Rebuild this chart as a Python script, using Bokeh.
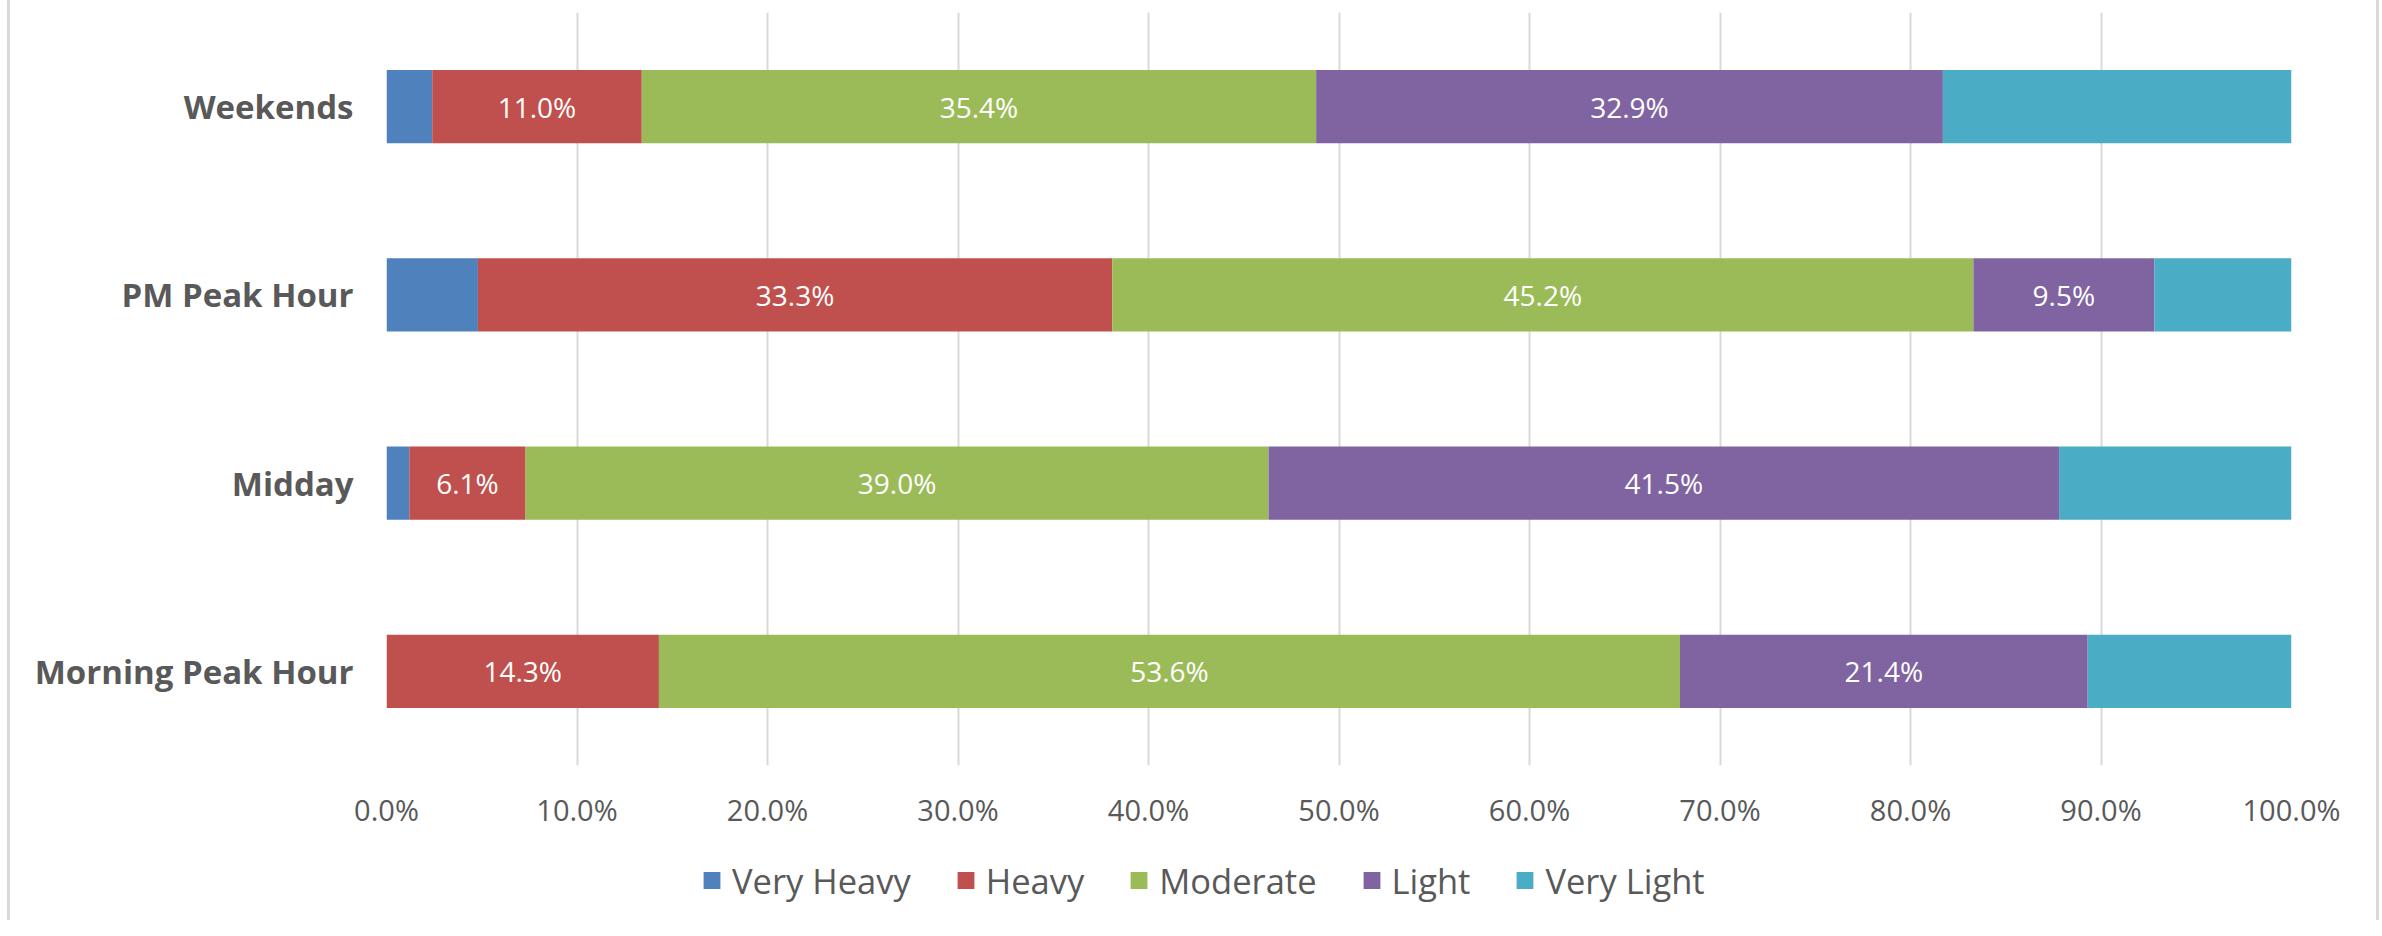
from bokeh.plotting import figure
from bokeh.layouts import column
from bokeh.models import (ColumnDataSource, Legend, LegendItem, NumeralTickFormatter,
                          LabelSet, FactorRange, Range1d, FixedTicker)
from bokeh.core.properties import value
from bokeh.embed import file_html
from bokeh.resources import INLINE

# ---- data (percent of observations) ----
periods = ["Morning Peak Hour", "Midday", "PM Peak Hour", "Weekends"]
levels = ["Very Heavy", "Heavy", "Moderate", "Light", "Very Light"]
very_heavy = [0.0, 1.2, 4.8, 2.4]
heavy = [14.3, 6.1, 33.3, 11.0]
moderate = [53.6, 39.0, 45.2, 35.4]
light = [21.4, 41.5, 9.5, 32.9]
very_light = [10.7, 12.2, 7.2, 18.3]
labelled_levels = ["Heavy", "Moderate", "Light"]
x_ticks = [0.0, 0.1, 0.2, 0.3, 0.4, 0.5, 0.6, 0.7, 0.8, 0.9, 1.0]

colors = ["#4F81BD", "#C0504D", "#9BBB59", "#8064A2", "#4BACC6"]
FONT = "Open Sans"
TEXT = "#595959"
W = 2380

series = [very_heavy, heavy, moderate, light, very_light]
data = {"period": periods}
for name, vals in zip(levels, series):
    data[name] = [v / 100.0 for v in vals]
source = ColumnDataSource(data)

BORDER_STYLE = {
    "background-color": "white",
    "background-image": "linear-gradient(#D9D9D9, #D9D9D9), linear-gradient(#D9D9D9, #D9D9D9)",
    "background-size": "3px 100%, 3px 100%",
    "background-position": "7px 0px, 2376px 0px",
    "background-repeat": "no-repeat",
}

p = figure(y_range=FactorRange(*periods), x_range=Range1d(0, 1),
           width=W, height=840, output_backend="svg", toolbar_location=None,
           min_border_left=386, min_border_right=89, min_border_top=12,
           min_border_bottom=75)

renderers = p.hbar_stack(levels, y="period", height=0.39, color=colors,
                         source=source, line_color=None)

# data labels
lx, ly, lt = [], [], []
for i, per in enumerate(periods):
    cum = 0.0
    for name, vals in zip(levels, series):
        v = vals[i] / 100.0
        if name in labelled_levels:
            lx.append(cum + v / 2)
            ly.append(per)
            lt.append(f"{vals[i]:.1f}%")
        cum += v
lsrc = ColumnDataSource(dict(x=lx, y=ly, t=lt))
labels = LabelSet(x="x", y="y", text="t", source=lsrc, text_align="center",
                  text_baseline="middle", text_color="white",
                  text_font=value(FONT), text_font_size="28px")
p.add_layout(labels)

# axes
p.xaxis.ticker = FixedTicker(ticks=x_ticks)
p.xaxis.formatter = NumeralTickFormatter(format="0.0%")
p.xaxis.major_label_text_font = FONT
p.xaxis.major_label_text_font_size = "29px"
p.xaxis.major_label_text_color = TEXT
p.xaxis.major_label_standoff = 18
p.xaxis.axis_line_color = None
p.xaxis.major_tick_line_color = None
p.xaxis.minor_tick_line_color = None

p.yaxis.major_label_text_font = FONT
p.yaxis.major_label_text_font_size = "33px"
p.yaxis.major_label_text_font_style = "bold"
p.yaxis.major_label_text_color = TEXT
p.yaxis.major_label_standoff = 27
p.yaxis.axis_line_color = None
p.yaxis.major_tick_line_color = None

p.xgrid.grid_line_color = "#D9D9D9"
p.xgrid.grid_line_width = 2
p.ygrid.grid_line_color = None
p.outline_line_color = None
p.border_fill_alpha = 0
p.styles = BORDER_STYLE

# ---- legend strip: a second figure whose stacked bars (scrolled out of view) feed the legend ----
pl = figure(width=W, height=80, output_backend="svg", toolbar_location=None,
            x_axis_location=None, y_axis_location=None,
            x_range=Range1d(1.5, 2.5), y_range=FactorRange(*periods),
            min_border=0, min_border_left=0, min_border_right=0,
            min_border_top=0, min_border_bottom=0)
pl.grid.grid_line_color = None
pl.outline_line_color = None
pl.border_fill_alpha = 0
pl.background_fill_alpha = 0
pl.styles = BORDER_STYLE

proxies = pl.hbar_stack(levels, y="period", height=0.001, color=colors,
                        source=source, line_color=None)
legend = Legend(items=[LegendItem(label=n, renderers=[r]) for n, r in zip(levels, proxies)],
                orientation="horizontal", location="center_left",
                label_text_font=FONT, label_text_font_size="34.5px",
                label_text_color=TEXT, glyph_width=21, glyph_height=21,
                label_standoff=10, spacing=44, border_line_color=None,
                padding=10, margin=315, background_fill_alpha=0)
pl.add_layout(legend, "center")

layout = column(p, pl, spacing=0)
open("out.html", "w").write(file_html(layout, INLINE))
